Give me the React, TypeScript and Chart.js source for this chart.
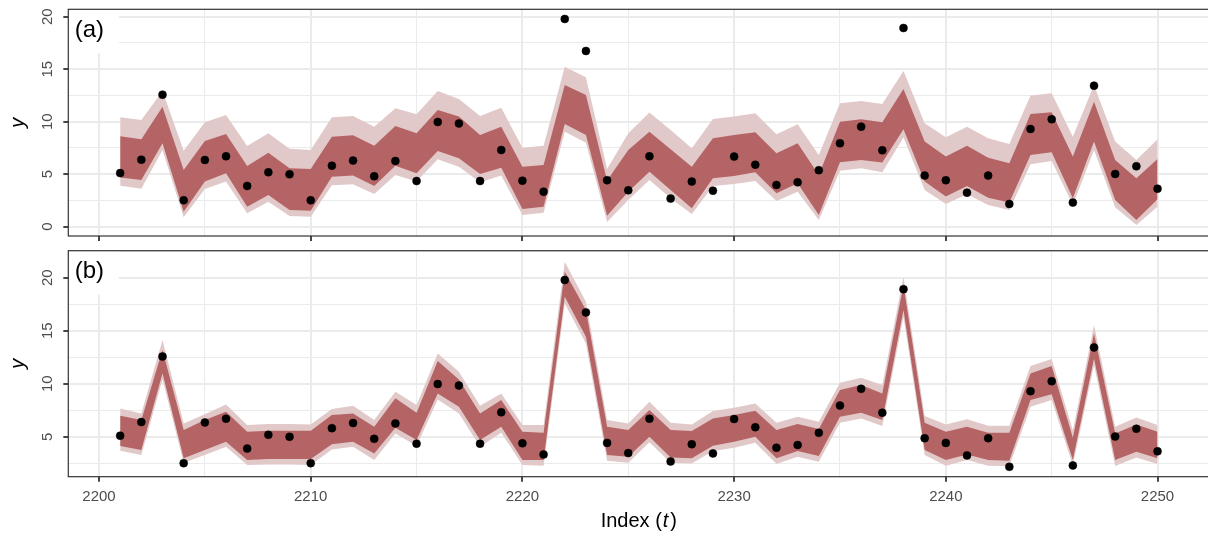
import React, { useEffect, useRef } from "react";
import { Chart, registerables } from "chart.js";

Chart.register(...registerables);

// ---------- data ----------
const tIndex = [
  2201, 2202, 2203, 2204, 2205, 2206, 2207, 2208, 2209, 2210,
  2211, 2212, 2213, 2214, 2215, 2216, 2217, 2218, 2219, 2220,
  2221, 2222, 2223, 2224, 2225, 2226, 2227, 2228, 2229, 2230,
  2231, 2232, 2233, 2234, 2235, 2236, 2237, 2238, 2239, 2240,
  2241, 2242, 2243, 2244, 2245, 2246, 2247, 2248, 2249, 2250,
];

const observed = [
  5.1, 6.38, 12.57, 2.51, 6.35, 6.7, 3.88, 5.18, 4.99, 2.51,
  5.81, 6.29, 4.8, 6.26, 4.35, 9.97, 9.83, 4.35, 7.3, 4.38,
  3.33, 19.78, 16.73, 4.42, 3.46, 6.7, 2.67, 4.29, 3.43, 6.67,
  5.9, 3.97, 4.22, 5.37, 7.94, 9.52, 7.27, 18.92, 4.86, 4.42,
  3.24, 4.86, 2.16, 9.3, 10.23, 2.29, 13.43, 5.02, 5.75, 3.62,
];

// panel (a)
const aOuterLo = [
  3.9, 3.62, 7.3, 0.89, 3.59, 4.29, 1.27, 2.38, 1.02, 0.95,
  3.94, 4.03, 3.11, 4.92, 4.29, 6.41, 5.71, 4.22, 4.86, 1.11,
  1.33, 9.05, 8.0, 0.45, 2.54, 4.44, 2.7, 1.21, 3.87, 4.06,
  4.35, 2.44, 3.33, 0.63, 5.33, 5.56, 5.17, 8.48, 3.49, 2.16,
  3.08, 2.06, 1.59, 5.94, 6.25, 2.06, 7.3, 1.84, 0.16, 1.9,
];
const aInnerLo = [
  4.67, 4.44, 7.94, 1.43, 4.29, 5.08, 1.9, 3.02, 1.59, 1.52,
  4.76, 4.86, 3.87, 5.81, 5.08, 7.2, 6.51, 5.02, 5.62, 1.68,
  1.9, 9.78, 8.73, 1.05, 3.33, 5.24, 3.49, 1.75, 4.6, 4.83,
  5.17, 3.17, 4.13, 1.11, 6.13, 6.35, 6.1, 9.27, 4.29, 2.86,
  3.87, 2.76, 2.29, 6.83, 7.08, 2.7, 8.1, 2.54, 0.63, 2.6,
];
const aInnerHi = [
  8.6, 8.32, 11.43, 5.4, 8.16, 8.83, 5.78, 7.05, 5.56, 5.49,
  8.57, 8.7, 7.71, 9.59, 8.89, 11.11, 10.48, 8.73, 9.52, 5.71,
  5.87, 13.49, 12.54, 4.4, 7.3, 9.05, 7.37, 5.71, 8.41, 8.73,
  8.98, 6.98, 7.94, 4.92, 10.0, 10.22, 9.94, 13.11, 8.1, 6.67,
  7.71, 6.57, 6.03, 10.73, 10.89, 6.67, 11.9, 6.35, 4.6, 6.44,
];
const aOuterHi = [
  10.41, 10.16, 12.92, 7.24, 9.94, 10.63, 7.68, 8.89, 7.43, 7.3,
  10.41, 10.54, 9.52, 11.27, 10.7, 12.92, 12.16, 10.54, 11.33, 7.52,
  7.71, 15.24, 14.22, 5.5, 8.89, 10.86, 9.21, 7.46, 10.25, 10.48,
  10.79, 8.79, 9.75, 6.83, 11.75, 11.97, 11.68, 14.83, 9.84, 8.51,
  9.52, 8.41, 7.87, 12.48, 12.7, 8.57, 13.49, 8.1, 6.35, 8.32,
];

// panel (b)
const bOuterLo = [
  3.68, 3.27, 10.4, 2.55, 3.27, 4.06, 2.33, 2.39, 2.39, 2.33,
  3.8, 4.06, 2.8, 5.31, 4.12, 8.52, 7.2, 4.06, 5.38, 2.33,
  2.26, 17.58, 13.8, 2.74, 2.55, 4.47, 2.55, 2.48, 3.65, 3.96,
  4.43, 2.42, 3.11, 2.64, 6.32, 6.73, 6.01, 16.32, 3.27, 2.26,
  2.8, 2.26, 2.23, 7.83, 8.46, 2.3, 11.76, 2.23, 3.05, 2.42,
];
const bInnerLo = [
  4.12, 3.74, 11.0, 2.96, 3.74, 4.53, 2.8, 2.89, 2.89, 2.89,
  4.28, 4.53, 3.43, 5.85, 4.69, 9.09, 7.83, 4.69, 5.94, 2.8,
  2.8, 18.2, 14.43, 3.27, 3.11, 5.0, 3.05, 2.96, 4.15, 4.53,
  5.0, 2.96, 3.65, 3.18, 6.89, 7.26, 6.57, 16.95, 3.74, 2.8,
  3.33, 2.8, 2.74, 8.46, 9.0, 2.8, 12.39, 2.8, 3.58, 2.96,
];
const bInnerHi = [
  6.98, 6.57, 13.18, 5.63, 6.57, 7.36, 5.47, 5.57, 5.57, 5.57,
  7.04, 7.2, 5.94, 8.62, 7.26, 12.14, 10.41, 7.2, 8.46, 5.47,
  5.38, 20.57, 16.95, 5.94, 5.63, 7.52, 5.63, 5.53, 6.73, 7.04,
  7.45, 5.63, 6.19, 5.72, 9.4, 9.87, 9.09, 19.31, 6.32, 5.47,
  5.94, 5.38, 5.38, 10.97, 11.67, 4.9, 14.75, 5.31, 6.16, 5.47,
];
const bOuterHi = [
  7.67, 7.2, 14.12, 6.26, 7.11, 8.05, 6.1, 6.19, 6.19, 6.16,
  7.61, 7.92, 6.57, 9.25, 7.99, 12.86, 11.13, 7.92, 9.09, 6.1,
  6.1, 21.5, 17.74, 6.57, 6.26, 8.3, 6.32, 6.16, 7.42, 7.74,
  8.14, 6.32, 6.89, 6.42, 10.09, 10.57, 9.87, 20.09, 6.95, 6.16,
  6.64, 6.04, 6.04, 11.67, 12.33, 5.6, 15.53, 5.94, 6.82, 6.1,
];

const panelLabels = ["(a)", "(b)"];
const xTitleParts = ["Index (", "t", ")"];
const yTitle = "y";

// ---------- styling ----------
const FONT = '"Liberation Sans", Arial, Helvetica, sans-serif';
const LIGHT = "rgb(226,201,201)";
const DARK = "rgb(181,100,101)";
const GRID = "#EBEBEB";
const AXIS = "#333333";
const TICKTXT = "#4D4D4D";
const CANVAS_W = 1232;
const PLOT_LEFT = 68.3;
const PLOT_RIGHT = 1209.4;

const isMult = (v: number, m: number) => Math.abs(v / m - Math.round(v / m)) < 1e-6;

const pts = (ys: number[]) => tIndex.map((t, i) => ({ x: t, y: ys[i] }));

function buildConfig(opts: any) {
  const { lo90, lo50, hi50, hi90, ymin, ymax, showX, padTop, xHeight, label, xTitle } = opts;
  const bandBase = {
    borderColor: "rgba(0,0,0,0)",
    borderWidth: 1,
    pointRadius: 0,
    pointHoverRadius: 0,
    tension: 0,
  };
  const decor = {
    id: "panelDecor",
    beforeDatasetsDraw(chart: any) {
      const { ctx, chartArea } = chart;
      ctx.save();
      ctx.fillStyle = "#ffffff";
      ctx.fillRect(chartArea.left + 0.5, chartArea.top + 0.5, 50, 43.5);
      ctx.fillStyle = "#000000";
      ctx.font = `24px ${FONT}`;
      ctx.textAlign = "center";
      ctx.textBaseline = "middle";
      ctx.fillText(label, chartArea.left + 21, chartArea.top + 21);
      ctx.restore();
    },
    afterDraw(chart: any) {
      const { ctx, chartArea } = chart;
      ctx.save();
      ctx.strokeStyle = AXIS;
      ctx.lineWidth = 1.2;
      ctx.strokeRect(chartArea.left, chartArea.top, chartArea.right - chartArea.left, chartArea.bottom - chartArea.top);
      if (xTitle) {
        const cx = (chartArea.left + chartArea.right) / 2;
        const base = chartArea.bottom + 50.5;
        const reg = `20px ${FONT}`;
        const ital = `italic 20px ${FONT}`;
        ctx.font = reg;
        const w0 = ctx.measureText(xTitleParts[0]).width;
        const w2 = ctx.measureText(xTitleParts[2]).width;
        ctx.font = ital;
        const w1 = ctx.measureText(xTitleParts[1]).width + 3;
        let x = cx - (w0 + w1 + w2) / 2;
        ctx.fillStyle = "#000000";
        ctx.textBaseline = "alphabetic";
        ctx.textAlign = "left";
        ctx.font = reg;
        ctx.fillText(xTitleParts[0], x, base);
        x += w0;
        ctx.font = ital;
        ctx.fillText(xTitleParts[1], x + 1, base);
        x += w1;
        ctx.font = reg;
        ctx.fillText(xTitleParts[2], x, base);
      }
      ctx.restore();
    },
  };

  return {
    type: "line",
    data: {
      datasets: [
        { ...bandBase, data: pts(lo90), fill: false, order: 4 },
        { ...bandBase, data: pts(hi90), fill: 0, backgroundColor: LIGHT, order: 3 },
        { ...bandBase, data: pts(lo50), fill: false, order: 2 },
        { ...bandBase, data: pts(hi50), fill: 2, backgroundColor: DARK, order: 1 },
        {
          data: pts(observed),
          showLine: false,
          pointRadius: 4,
          pointHoverRadius: 4,
          pointBackgroundColor: "#000000",
          pointBorderColor: "#000000",
          pointBorderWidth: 0.5,
          borderColor: "#000000",
          order: 0,
        },
      ],
    },
    options: {
      animation: false,
      responsive: false,
      devicePixelRatio: 1,
      events: [],
      layout: { padding: { top: padTop, right: CANVAS_W - PLOT_RIGHT, left: 0, bottom: 0 } },
      plugins: { legend: { display: false }, tooltip: { enabled: false } },
      scales: {
        x: {
          type: "linear",
          min: 2198.55,
          max: 2252.45,
          afterFit: (s: any) => {
            s.height = xHeight;
            s.paddingLeft = 0;
            s.paddingRight = 0;
          },
          border: { display: false },
          grid: {
            color: GRID,
            lineWidth: (c: any) => (c.tick && isMult(c.tick.value, 10) ? 2 : 1),
            tickColor: (c: any) => (c.tick && isMult(c.tick.value, 10) ? AXIS : "rgba(0,0,0,0)"),
            tickWidth: 1.8,
            tickLength: 5,
            drawTicks: true,
          },
          ticks: {
            display: showX,
            stepSize: 5,
            includeBounds: false,
            autoSkip: false,
            maxRotation: 0,
            minRotation: 0,
            padding: 6,
            color: TICKTXT,
            font: { family: FONT, size: 15 },
            callback: (v: any) => (isMult(v, 10) ? String(v) : ""),
          },
        },
        y: {
          type: "linear",
          min: ymin,
          max: ymax,
          afterFit: (s: any) => {
            s.width = PLOT_LEFT;
            s.paddingTop = 0;
            s.paddingBottom = 0;
          },
          border: { display: false },
          grid: {
            color: GRID,
            lineWidth: (c: any) => (c.tick && isMult(c.tick.value, 5) ? 2 : 1),
            tickColor: (c: any) => (c.tick && isMult(c.tick.value, 5) ? AXIS : "rgba(0,0,0,0)"),
            tickWidth: 1.8,
            tickLength: 5,
            drawTicks: true,
          },
          ticks: {
            stepSize: 2.5,
            includeBounds: false,
            autoSkip: false,
            minRotation: 90,
            maxRotation: 90,
            crossAlign: "center",
            padding: 7.5,
            color: TICKTXT,
            font: { family: FONT, size: 15 },
            callback: (v: any) => (isMult(v, 5) ? String(v) : ""),
          },
          title: {
            display: true,
            text: yTitle,
            color: "#000000",
            font: { family: FONT, size: 20, style: "italic" },
            padding: { top: 6, bottom: 0 },
          },
        },
      },
    },
    plugins: [decor],
  };
}

export default function App() {
  const refA = useRef<HTMLCanvasElement | null>(null);
  const refB = useRef<HTMLCanvasElement | null>(null);

  useEffect(() => {
    const chA = new Chart(refA.current as any, buildConfig({
      lo90: aOuterLo, lo50: aInnerLo, hi50: aInnerHi, hi90: aOuterHi,
      ymin: -0.89, ymax: 20.7, showX: false, padTop: 9.3, xHeight: 9, label: panelLabels[0], xTitle: false,
    }) as any);
    const chB = new Chart(refB.current as any, buildConfig({
      lo90: bOuterLo, lo50: bInnerLo, hi50: bInnerHi, hi90: bOuterHi,
      ymin: 1.23, ymax: 22.55, showX: true, padTop: 5.7, xHeight: 57.3, label: panelLabels[1], xTitle: true,
    }) as any);
    return () => {
      chA.destroy();
      chB.destroy();
    };
  }, []);

  return (
    <div style={{ position: "fixed", left: 0, top: 0, width: 1208, height: 534, overflow: "hidden", background: "#ffffff" }}>
      <canvas
        ref={refA}
        width={CANVAS_W}
        height={245}
        style={{ position: "absolute", left: 0, top: 0, width: CANVAS_W, height: 245 }}
      />
      <canvas
        ref={refB}
        width={CANVAS_W}
        height={289}
        style={{ position: "absolute", left: 0, top: 245, width: CANVAS_W, height: 289 }}
      />
    </div>
  );
}
